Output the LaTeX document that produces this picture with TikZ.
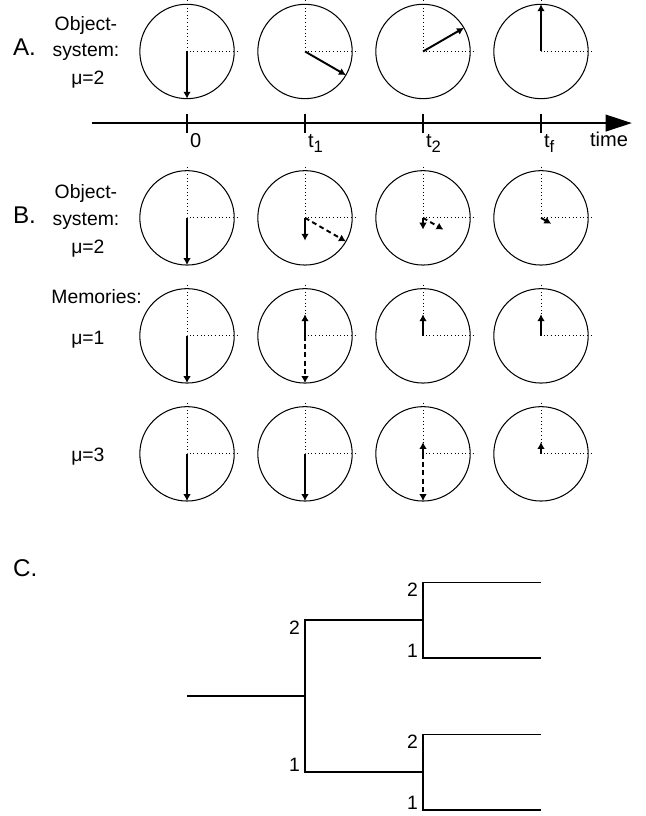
\documentclass[tikz,border=0pt]{standalone}
\usepackage{fontspec}
\setmainfont{Liberation Sans}
\usepackage{tikz}
\usetikzlibrary{arrows.meta}

\newcommand{\tsub}[1]{\raisebox{-0.45ex}{\fontsize{12}{12}\selectfont #1}}

\begin{document}
\begin{tikzpicture}[
    face/.style={line width=0.75pt},
    guide/.style={dotted, line width=0.6pt},
    hand/.style={line width=1.4pt, -{Latex[length=5pt,width=5.5pt]}},
    ghost/.style={hand, dash pattern=on 3.5pt off 2.5pt},
    branch/.style={line width=1.1pt},
    lbl/.style={font=\fontsize{14}{16}\selectfont, inner sep=0pt},
    axlbl/.style={font=\fontsize{14.5}{17}\selectfont, inner sep=0pt},
    big/.style={font=\fontsize{17.5}{20}\selectfont, inner sep=0pt},
    digit/.style={font=\fontsize{14}{16}\selectfont, inner xsep=3.5pt, inner ysep=0.5pt}
]
\useasboundingbox (-4.755,-19.438) rectangle (11.645,1.309);

% clock faces, one row per system
\foreach \r/\y in {A/0, B/-4.23, P/-7.23, Q/-10.23} {
    \foreach \c in {0,1,2,3} {
        \coordinate (\r\c) at (3*\c,\y);
        \draw[face] (\r\c) circle (1.2);
        \draw[guide] (\r\c) ++(0,1.3) -- (\r\c) -- ++(1.3,0);
    }
}

% A: free object-system
\draw[hand] (A0) -- ++(-90:1.2);
\draw[hand] (A1) -- ++(-30:1.2);
\draw[hand] (A2) -- ++(30:1.2);
\draw[hand] (A3) -- ++(90:1.2);

% time axis
\coordinate (axL) at (-2.42,-1.82);
\coordinate (axR) at (11.31,-1.82);
\draw[line width=1.5pt, -{Triangle[length=19pt,width=12pt]}] (axL) -- (axR);
\foreach \c/\t in {0/0, 1/t\tsub{1}, 2/t\tsub{2}, 3/t\tsub{f}} {
    \draw[line width=1.5pt] (3*\c,-1.58) -- (3*\c,-2.06);
    \node[axlbl, anchor=base west] (T\c) at (3*\c+0.07,-2.45) {\t};
}
\node[axlbl, anchor=base] (tm) at (10.73,-2.42) {time};

% B: object-system with memories
\draw[hand] (B0) -- ++(-90:1.2);
\draw[hand] (B1) -- ++(-90:0.58);
\draw[ghost] (B1) -- ++(-30:1.2);
\draw[hand] (B2) -- ++(-90:0.3);
\draw[ghost] (B2) -- ++(-30:0.6);
\draw[hand] (B3) -- ++(-30:0.3);

\draw[hand] (P0) -- ++(-90:1.2);
\draw[hand] (P1) -- ++(90:0.55);
\draw[ghost] (P1) -- ++(-90:1.2);
\draw[hand] (P2) -- ++(90:0.55);
\draw[hand] (P3) -- ++(90:0.55);

\draw[hand] (Q0) -- ++(-90:1.2);
\draw[hand] (Q1) -- ++(-90:1.2);
\draw[hand] (Q2) -- ++(90:0.3);
\draw[ghost] (Q2) -- ++(-90:1.2);
\draw[hand] (Q3) -- ++(90:0.3);

% row labels
\node[big, anchor=base west] (lA) at (-4.43,-0.11) {A.};
\node[lbl, anchor=base] (lA1) at (-2.57,0.53) {Object-};
\node[lbl, anchor=base] (lA2) at (-2.57,-0.14) {system:};
\node[lbl, anchor=base] (lA3) at (-2.52,-0.85) {μ=2};
\node[big, anchor=base west] (lB) at (-4.43,-4.37) {B.};
\node[lbl, anchor=base] (lB1) at (-2.57,-3.75) {Object-};
\node[lbl, anchor=base] (lB2) at (-2.57,-4.43) {system:};
\node[lbl, anchor=base] (lB3) at (-2.52,-5.13) {μ=2};
\node[lbl, anchor=base] (lM) at (-2.30,-6.42) {Memories:};
\node[lbl, anchor=base] (lP) at (-2.52,-7.44) {μ=1};
\node[lbl, anchor=base] (lQ) at (-2.52,-10.43) {μ=3};
\node[big, anchor=base west] (lC) at (-4.43,-13.36) {C.};

% C: branching tree
\coordinate (root) at (0,-16.39);
\coordinate (s)  at (3,-16.39);
\coordinate (s2) at (3,-14.46);
\coordinate (s1) at (3,-18.32);
\coordinate (u)  at (6,-14.46);
\coordinate (u2) at (6,-13.5);
\coordinate (u1) at (6,-15.42);
\coordinate (v)  at (6,-18.32);
\coordinate (v2) at (6,-17.36);
\coordinate (v1) at (6,-19.29);
\coordinate (w4) at (9,-13.5);
\coordinate (w3) at (9,-15.42);
\coordinate (w2) at (9,-17.36);
\coordinate (w1) at (9,-19.29);
\draw[branch] (root) -- (s);
\draw[branch] (u) -- (s2) -- (s1) -- (v);
\draw[branch] (w4) -- (u2) -- (u1) -- (w3);
\draw[branch] (w2) -- (v2) -- (v1) -- (w1);
\node[digit, anchor=north east] (d1) at (s2) {2};
\node[digit, anchor=south east] (d2) at (s1) {1};
\node[digit, anchor=north east] (d3) at (u2) {2};
\node[digit, anchor=south east] (d4) at (u1) {1};
\node[digit, anchor=north east] (d5) at (v2) {2};
\node[digit, anchor=south east] (d6) at (v1) {1};
\end{tikzpicture}
\end{document}
